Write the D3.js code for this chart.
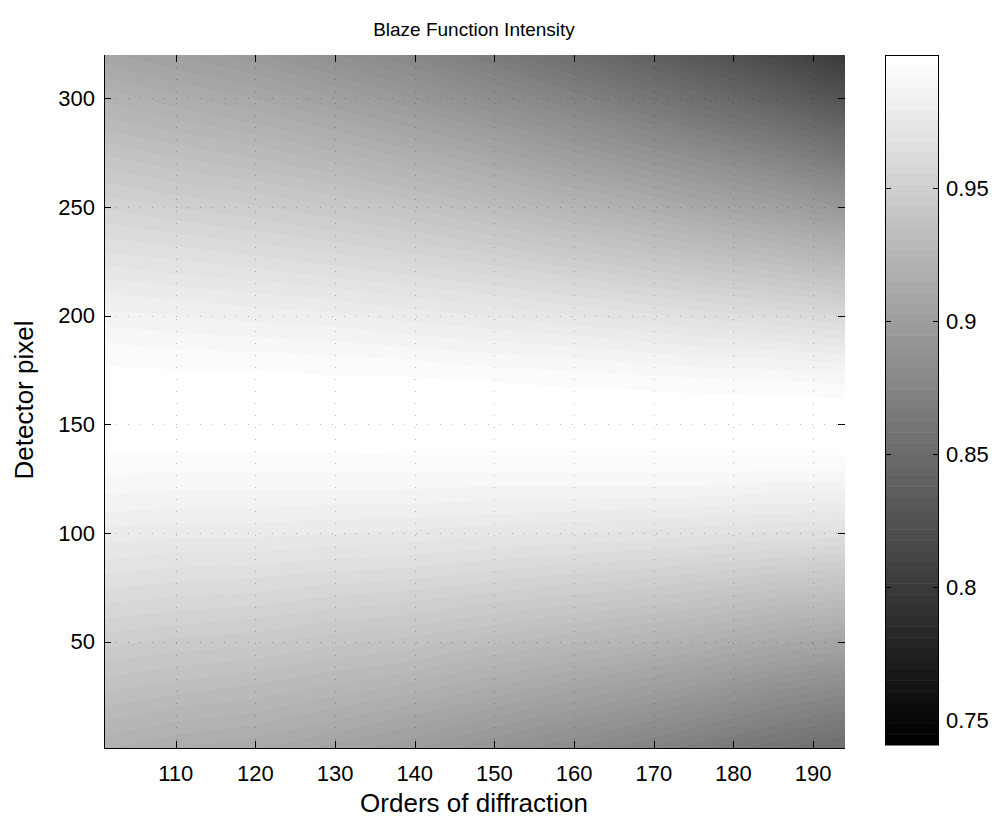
<!DOCTYPE html>
<html><head><meta charset="utf-8">
<script src="https://cdn.jsdelivr.net/npm/d3@7"></script>
<style>
body{margin:0;background:#fff;}
text{font-family:"Liberation Sans",Arial,Helvetica,sans-serif;fill:#000;}
</style>
</head><body>
<svg id="chart" width="1005" height="820"></svg>
<script>
// ---- data ----
const chartTitle = "Blaze Function Intensity";
const xLabel = "Orders of diffraction";
const yLabel = "Detector pixel";
const orders = [101, 110.3, 119.6, 128.9, 138.2, 147.5, 156.8, 166.1, 175.4, 184.7, 194];
const pixels = [0,10,20,30,40,50,60,70,80,90,100,110,120,130,140,150,160,170,180,190,200,210,220,230,240,250,260,270,280,290,300,310,320];
// intensity[row = pixel index][col = order index]
const intensity = [
 [0.919,0.914,0.911,0.905,0.900,0.892,0.884,0.876,0.867,0.858,0.852],
 [0.925,0.921,0.918,0.913,0.907,0.900,0.893,0.886,0.878,0.869,0.862],
 [0.931,0.927,0.925,0.920,0.915,0.909,0.902,0.896,0.888,0.879,0.872],
 [0.937,0.934,0.931,0.927,0.923,0.917,0.911,0.905,0.899,0.890,0.884],
 [0.943,0.940,0.938,0.934,0.931,0.925,0.920,0.915,0.909,0.902,0.896],
 [0.949,0.946,0.945,0.941,0.938,0.934,0.929,0.925,0.920,0.913,0.908],
 [0.955,0.953,0.951,0.948,0.946,0.942,0.938,0.934,0.930,0.924,0.920],
 [0.961,0.959,0.958,0.955,0.953,0.950,0.947,0.944,0.940,0.935,0.932],
 [0.967,0.965,0.964,0.962,0.961,0.958,0.955,0.953,0.950,0.946,0.943],
 [0.973,0.971,0.971,0.969,0.968,0.966,0.964,0.962,0.960,0.957,0.955],
 [0.978,0.977,0.977,0.976,0.975,0.973,0.972,0.971,0.969,0.967,0.966],
 [0.984,0.983,0.983,0.982,0.982,0.981,0.980,0.979,0.978,0.977,0.976],
 [0.989,0.988,0.988,0.988,0.988,0.987,0.987,0.987,0.987,0.985,0.985],
 [0.993,0.993,0.993,0.993,0.993,0.993,0.993,0.993,0.993,0.993,0.993],
 [0.997,0.997,0.997,0.997,0.998,0.998,0.998,0.998,0.998,0.998,0.998],
 [0.999,0.999,1.000,1.000,1.000,1.000,1.000,1.000,1.000,1.000,1.000],
 [1.000,1.000,1.000,1.000,0.999,0.999,0.999,0.999,0.998,0.998,0.997],
 [0.998,0.998,0.998,0.997,0.997,0.996,0.995,0.994,0.993,0.992,0.991],
 [0.995,0.994,0.994,0.993,0.992,0.990,0.989,0.987,0.985,0.984,0.982],
 [0.991,0.989,0.988,0.987,0.985,0.983,0.981,0.979,0.976,0.974,0.971],
 [0.985,0.984,0.982,0.981,0.978,0.976,0.973,0.970,0.966,0.963,0.959],
 [0.980,0.978,0.976,0.974,0.971,0.968,0.964,0.960,0.956,0.952,0.947],
 [0.974,0.971,0.969,0.966,0.963,0.959,0.955,0.950,0.945,0.940,0.934],
 [0.967,0.965,0.962,0.959,0.955,0.951,0.945,0.940,0.934,0.928,0.921],
 [0.961,0.958,0.955,0.951,0.947,0.942,0.936,0.930,0.923,0.916,0.908],
 [0.955,0.951,0.948,0.944,0.939,0.933,0.926,0.919,0.911,0.904,0.894],
 [0.948,0.944,0.941,0.936,0.930,0.924,0.916,0.909,0.900,0.892,0.881],
 [0.942,0.937,0.933,0.928,0.922,0.915,0.906,0.898,0.889,0.879,0.867],
 [0.935,0.930,0.926,0.920,0.913,0.906,0.897,0.887,0.877,0.867,0.854],
 [0.928,0.923,0.918,0.912,0.905,0.896,0.887,0.877,0.865,0.854,0.840],
 [0.922,0.916,0.911,0.904,0.896,0.887,0.877,0.866,0.854,0.841,0.826],
 [0.915,0.909,0.904,0.896,0.888,0.878,0.867,0.855,0.842,0.829,0.813],
 [0.908,0.902,0.896,0.888,0.879,0.869,0.857,0.844,0.830,0.816,0.799]
];
const xTicks = [110,120,130,140,150,160,170,180,190];
const yTicks = [50,100,150,200,250,300];
const cbTicks = [0.75,0.8,0.85,0.9,0.95];
const colorLimits = [0.7406, 1.0];
const xDomain = [101, 194];
const yDomain = [1, 320];
const nLevels = 64;

// ---- layout ----
const svg = d3.select("#chart");
const plot = {left:104, right:845, top:55, bottom:748};
const cb = {left:885, right:939, top:55, bottom:745};

const x = d3.scaleLinear().domain(xDomain).range([plot.left, plot.right]);
const y = d3.scaleLinear().domain(yDomain).range([plot.bottom, plot.top]);

const step = (colorLimits[1]-colorLimits[0])/nLevels;
const grays = d3.range(nLevels).map(i => { const g = Math.round(255*i/(nLevels-1)); return d3.rgb(g,g,g).formatHex(); });
const color = d3.scaleQuantize().domain(colorLimits).range(grays);

// ---- heat map as 64 filled level bands ----
const nx = orders.length, ny = pixels.length;
const flat = [];
for (let j = 0; j < ny; j++) for (let i = 0; i < nx; i++) flat.push(intensity[j][i]);
const thresholds = d3.range(nLevels).map(i => colorLimits[0] + i*step);
const bands = d3.contours().size([nx, ny]).thresholds(thresholds)(flat);

const gridToOrder = d3.scaleLinear().domain([0.5, nx-0.5]).range([orders[0], orders[nx-1]]);
const gridToPixel = d3.scaleLinear().domain([0.5, ny-0.5]).range([pixels[0], pixels[ny-1]]);
const proj = d3.geoTransform({point(px, py){ this.stream.point(x(gridToOrder(px)), y(gridToPixel(py))); }});
const path = d3.geoPath(proj);

svg.append("defs").append("clipPath").attr("id","plotclip")
  .append("rect").attr("x",plot.left).attr("y",plot.top)
  .attr("width",plot.right-plot.left).attr("height",plot.bottom-plot.top);

svg.append("g").attr("clip-path","url(#plotclip)")
  .selectAll("path").data(bands).join("path")
  .attr("d", path)
  .attr("fill", d => color(d.value + step/2))
  .attr("stroke", "none");

// ---- dotted grid ----
const grid = svg.append("g").attr("stroke","#000").attr("stroke-opacity",0.25)
  .attr("stroke-width",1).attr("stroke-dasharray","1 11").attr("fill","none");
grid.selectAll("line.gx").data(xTicks).join("line").attr("class","gx")
  .attr("x1", d => Math.round(x(d))+0.5).attr("x2", d => Math.round(x(d))+0.5)
  .attr("y1", plot.top).attr("y2", plot.bottom);
grid.selectAll("line.gy").data(yTicks).join("line").attr("class","gy")
  .attr("y1", d => Math.round(y(d))+0.5).attr("y2", d => Math.round(y(d))+0.5)
  .attr("x1", plot.left).attr("x2", plot.right);

// ---- axes lines and ticks (inside) ----
const ax = svg.append("g").attr("stroke","#000").attr("stroke-width",1).attr("fill","none");
ax.append("line").attr("x1",plot.left+0.5).attr("x2",plot.left+0.5).attr("y1",plot.top).attr("y2",plot.bottom+0.5);
ax.append("line").attr("x1",plot.left).attr("x2",plot.right).attr("y1",plot.bottom+0.5).attr("y2",plot.bottom+0.5);
const tl = 7;
xTicks.forEach(t => {
  const px = Math.round(x(t))+0.5;
  ax.append("line").attr("x1",px).attr("x2",px).attr("y1",plot.bottom).attr("y2",plot.bottom-tl);
  ax.append("line").attr("x1",px).attr("x2",px).attr("y1",plot.top).attr("y2",plot.top+tl);
});
yTicks.forEach(t => {
  const py = Math.round(y(t))+0.5;
  ax.append("line").attr("x1",plot.left).attr("x2",plot.left+tl).attr("y1",py).attr("y2",py);
  ax.append("line").attr("x1",plot.right).attr("x2",plot.right-tl).attr("y1",py).attr("y2",py);
});

const tickFont = 22;
svg.append("g").selectAll("text").data(xTicks).join("text")
  .attr("x", d => x(d)).attr("y", 781).attr("text-anchor","middle")
  .attr("font-size", tickFont).text(d => d);
svg.append("g").selectAll("text").data(yTicks).join("text")
  .attr("x", 95).attr("y", d => y(d)).attr("dy","0.35em").attr("text-anchor","end")
  .attr("font-size", tickFont).text(d => d);

svg.append("text").attr("x", 474).attr("y", 812).attr("text-anchor","middle")
  .attr("font-size", 26).text(xLabel);
svg.append("text").attr("transform","translate(33,400) rotate(-90)").attr("text-anchor","middle")
  .attr("font-size", 26).text(yLabel);
svg.append("text").attr("x", 474).attr("y", 36).attr("text-anchor","middle")
  .attr("font-size", 19).text(chartTitle);

// ---- colorbar ----
const cy = d3.scaleLinear().domain(colorLimits).range([cb.bottom, cb.top]);
svg.append("g").selectAll("rect").data(thresholds).join("rect")
  .attr("x", cb.left).attr("width", cb.right-cb.left)
  .attr("y", d => cy(d+step)).attr("height", d => cy(d)-cy(d+step)+0.5)
  .attr("fill", d => color(d + step/2));
svg.append("rect").attr("x",cb.left+0.5).attr("y",cb.top+0.5)
  .attr("width",cb.right-cb.left-1).attr("height",cb.bottom-cb.top-1)
  .attr("fill","none").attr("stroke","#000");
const cbt = svg.append("g").attr("stroke","#000");
cbTicks.forEach(t => {
  const py = Math.round(cy(t))+0.5;
  cbt.append("line").attr("x1",cb.left).attr("x2",cb.left+6).attr("y1",py).attr("y2",py);
  cbt.append("line").attr("x1",cb.right).attr("x2",cb.right-6).attr("y1",py).attr("y2",py);
});
svg.append("g").selectAll("text").data(cbTicks).join("text")
  .attr("x", 946).attr("y", d => cy(d)).attr("dy","0.35em")
  .attr("font-size", tickFont).text(d => d);
</script>
</body></html>
